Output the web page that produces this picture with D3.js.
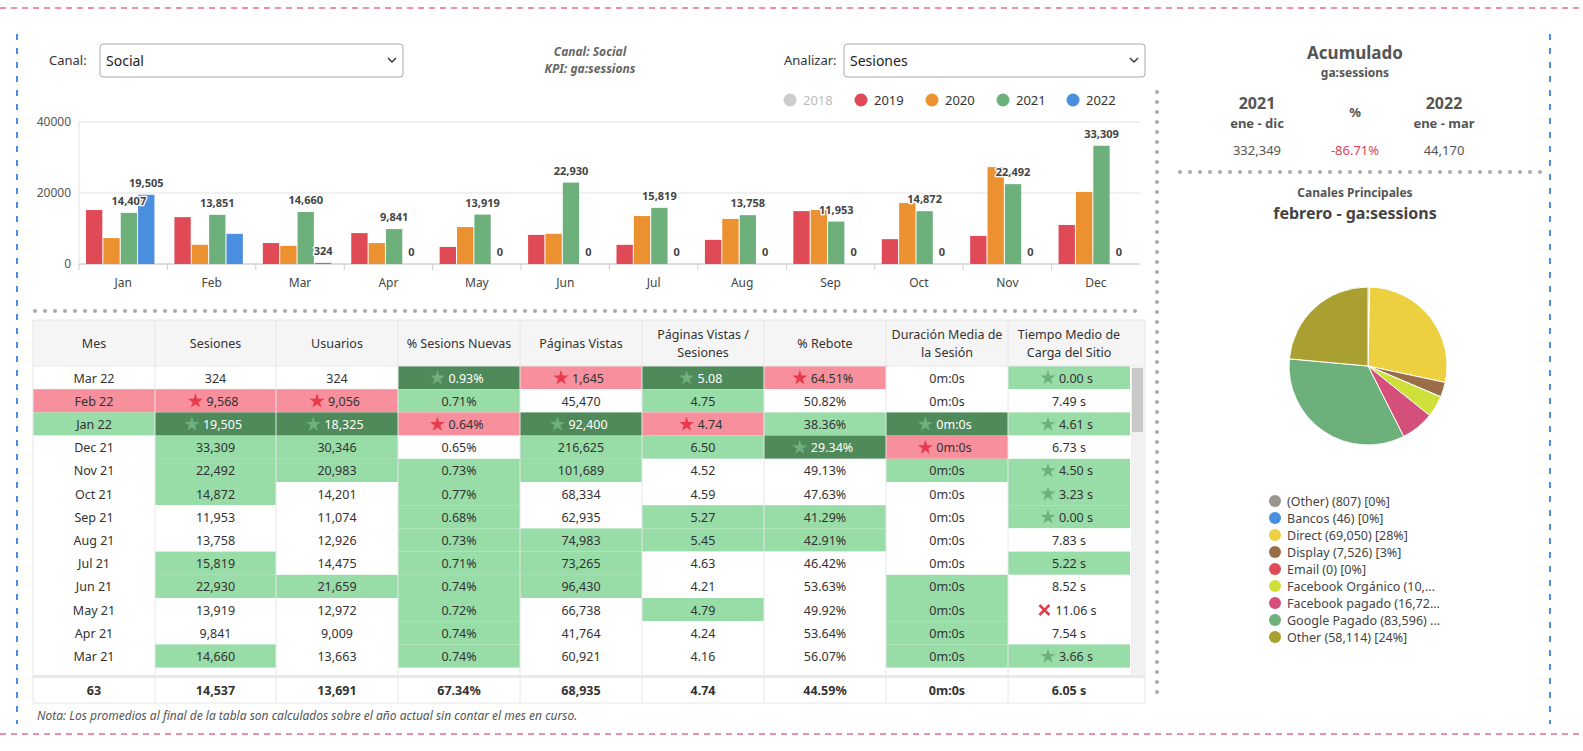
<!DOCTYPE html>
<html><head><meta charset="utf-8">
<script src="https://cdn.jsdelivr.net/npm/d3@7"></script>
<style>
  html, body { margin: 0; background: #fff; overflow: hidden; }
  svg { font-family: "Noto Sans", sans-serif; display: block; }
</style></head>
<body>
<script>
// ---- data ----
const months = ['Jan','Feb','Mar','Apr','May','Jun','Jul','Aug','Sep','Oct','Nov','Dec']
const years = ['2018','2019','2020','2021','2022']
const yearColors = ['#cccccc','#e04a57','#ec9130','#6db07c','#4a8ee0']
const s2019 = [15200,13200,5900,8700,4800,8200,5400,6800,14900,7000,7900,11000]
const s2020 = [7300,5400,5100,5900,10400,8500,13500,12700,15200,17200,27300,20300]
const s2021 = [14407,13851,14660,9841,13919,22930,15819,13758,11953,14872,22492,33309]
const s2022 = [19505,8500,324,0,0,0,0,0,0,0,0,0]
const label2022 = ['19,505',null,'324','0','0','0','0','0','0','0','0','0']
const yTicks = [0,20000,40000]

const tableHeaders = ['Mes','Sesiones','Usuarios','% Sesions Nuevas','Páginas Vistas','Páginas Vistas /|Sesiones','% Rebote','Duración Media de|la Sesión','Tiempo Medio de|Carga del Sitio']
const tableRows = [
  ['Mar 22','324','324','0.93%','1,645','5.08','64.51%','0m:0s','0.00 s'],
  ['Feb 22','9,568','9,056','0.71%','45,470','4.75','50.82%','0m:0s','7.49 s'],
  ['Jan 22','19,505','18,325','0.64%','92,400','4.74','38.36%','0m:0s','4.61 s'],
  ['Dec 21','33,309','30,346','0.65%','216,625','6.50','29.34%','0m:0s','6.73 s'],
  ['Nov 21','22,492','20,983','0.73%','101,689','4.52','49.13%','0m:0s','4.50 s'],
  ['Oct 21','14,872','14,201','0.77%','68,334','4.59','47.63%','0m:0s','3.23 s'],
  ['Sep 21','11,953','11,074','0.68%','62,935','5.27','41.29%','0m:0s','0.00 s'],
  ['Aug 21','13,758','12,926','0.73%','74,983','5.45','42.91%','0m:0s','7.83 s'],
  ['Jul 21','15,819','14,475','0.71%','73,265','4.63','46.42%','0m:0s','5.22 s'],
  ['Jun 21','22,930','21,659','0.74%','96,430','4.21','53.63%','0m:0s','8.52 s'],
  ['May 21','13,919','12,972','0.72%','66,738','4.79','49.92%','0m:0s','11.06 s'],
  ['Apr 21','9,841','9,009','0.74%','41,764','4.24','53.64%','0m:0s','7.54 s'],
  ['Mar 21','14,660','13,663','0.74%','60,921','4.16','56.07%','0m:0s','3.66 s']
]
// cell styles: '' plain, g light green, G dark green + star, r pink + star, p pink, s light green + star, x cross
const tableStyles = [
  ['','','','G','r','G','r','','s'],
  ['p','r','r','g','','g','','',''],
  ['g','G','G','r','G','r','g','G','s'],
  ['','g','g','','g','g','G','r',''],
  ['','g','g','g','g','','','g','s'],
  ['','g','','g','','','','','s'],
  ['','','','g','','g','g','','s'],
  ['','','','g','g','g','g','',''],
  ['','g','','g','g','','','','g'],
  ['','g','g','g','g','','','g',''],
  ['','','','g','','g','','g','x'],
  ['','','','g','','','','g',''],
  ['','g','','g','','','','g','s']
]
const tableTotals = ['63','14,537','13,691','67.34%','68,935','4.74','44.59%','0m:0s','6.05 s']

const pieValues = [807,46,69050,7526,0,10800,16720,83596,58114]
const pieLegend = ['(Other) (807) [0%]','Bancos (46) [0%]','Direct (69,050) [28%]','Display (7,526) [3%]','Email (0) [0%]','Facebook Orgánico (10,...','Facebook pagado (16,72...','Google Pagado (83,596) ...','Other (58,114) [24%]']
const pieColors = ['#9a958d','#4a8ee0','#ecd03f','#9b6e4a','#e04a57','#cfe03a','#d44f7a','#6db07c','#aaa032']

// ---- page ----
const svg = d3.select('body').append('svg').attr('width',1583).attr('height',751)

// frame
svg.append('line').attr('x1',0).attr('x2',1583).attr('y1',8).attr('y2',8).attr('stroke','#e36f8e').attr('stroke-width',1.5).attr('stroke-dasharray','6,5')
svg.append('line').attr('x1',0).attr('x2',1583).attr('y1',734).attr('y2',734).attr('stroke','#e36f8e').attr('stroke-width',1.5).attr('stroke-dasharray','6,5')
for (const x of [17,1550]) {
  svg.append('line').attr('x1',x).attr('x2',x).attr('y1',34).attr('y2',724).attr('stroke','#4a8ee0').attr('stroke-width',2).attr('stroke-dasharray','6,8')
}
const dots = (x1,y1,x2,y2) => svg.append('line').attr('x1',x1).attr('y1',y1).attr('x2',x2).attr('y2',y2)
  .attr('stroke','#aaa').attr('stroke-width',4).attr('stroke-linecap','round').attr('stroke-dasharray','0,10')
dots(1157,92,1157,700)
dots(35,311,1140,311)
dots(1180,172,1545,172)

// selects
const select = (lx, label, x, w, value) => {
  svg.append('text').attr('x',lx).attr('y',65).attr('font-size',13).attr('fill','#333').text(label)
  svg.append('rect').attr('x',x).attr('y',44).attr('width',w).attr('height',33).attr('rx',3).attr('fill','#fff').attr('stroke','#aaa')
  svg.append('text').attr('x',x+6).attr('y',66).attr('font-size',14).attr('fill','#222').text(value)
  svg.append('path').attr('d',`M${x+w-15},58 l4,4 l4,-4`).attr('fill','none').attr('stroke','#333').attr('stroke-width',1.4)
}
select(49,'Canal:',100,303,'Social')
select(784,'Analizar:',844,301,'Sesiones')
svg.append('text').attr('x',590).attr('y',56).attr('text-anchor','middle').attr('font-size',12).attr('font-style','italic').attr('font-weight','bold').attr('fill','#666').text('Canal: Social')
svg.append('text').attr('x',590).attr('y',73).attr('text-anchor','middle').attr('font-size',12).attr('font-style','italic').attr('font-weight','bold').attr('fill','#666').text('KPI: ga:sessions')

// legend
const legX = [790,861,932,1003,1073]
years.forEach((yr,i) => {
  svg.append('circle').attr('cx',legX[i]).attr('cy',100).attr('r',6.5).attr('fill',yearColors[i])
  svg.append('text').attr('x',legX[i]+13).attr('y',105).attr('font-size',13).attr('fill',i==0?'#bbb':'#333').text(yr)
})

// bar chart
const x = d3.scaleBand().domain(months).range([79,1140])
const xi = d3.scaleBand().domain(['2019','2020','2021','2022']).range([7,x.bandwidth()-13]).paddingInner(0.06)
const y = d3.scaleLinear().domain([0,40000]).range([264,122])
const gChart = svg.append('g')
yTicks.forEach(t => {
  gChart.append('line').attr('x1',79).attr('x2',1140).attr('y1',y(t)).attr('y2',y(t)).attr('stroke','#e3e3e3')
  gChart.append('text').attr('x',71).attr('y',y(t)+4).attr('text-anchor','end').attr('font-size',12).attr('fill','#555').text(t)
})
gChart.append('line').attr('x1',79).attr('x2',79).attr('y1',122).attr('y2',264).attr('stroke','#e3e3e3')
gChart.append('line').attr('x1',79).attr('x2',1140).attr('y1',264).attr('y2',264).attr('stroke','#ccc')
months.forEach((m,i) => {
  gChart.append('line').attr('x1',x(m)).attr('x2',x(m)).attr('y1',264).attr('y2',270).attr('stroke','#ccc')
  gChart.append('text').attr('x',x(m)+x.bandwidth()/2).attr('y',287).attr('text-anchor','middle').attr('font-size',12).attr('fill','#444').text(m)
})
const series = [['2019',s2019,1],['2020',s2020,2],['2021',s2021,3],['2022',s2022,4]]
series.forEach(([yr,vals,ci]) => {
  gChart.selectAll(null).data(vals).join('rect')
    .attr('x',(d,i) => x(months[i]) + xi(yr))
    .attr('y',d => y(d)).attr('width',xi.bandwidth()).attr('height',d => 264 - y(d))
    .attr('fill',yearColors[ci])
})
const barLabel = (vals, yr, labels) => gChart.selectAll(null).data(vals).join('text')
  .attr('x',(d,i) => x(months[i]) + xi(yr) + xi.bandwidth()/2)
  .attr('y',d => y(d) - 8)
  .attr('text-anchor','middle').attr('font-size',11).attr('font-weight','bold').attr('fill','#444')
  .attr('stroke','#fff').attr('stroke-width',2.5).attr('paint-order','stroke')
  .text((d,i) => labels ? labels[i] : d3.format(',')(d))
barLabel(s2021,'2021')
barLabel(s2022,'2022',label2022)

// table
const colX = [33,155,276,398,520,642,764,886,1008,1130]
const headTop = 320, rowH = 23.2, bodyTop = 366
const gT = svg.append('g')
gT.append('rect').attr('x',33).attr('y',headTop).attr('width',1112).attr('height',bodyTop-headTop).attr('fill','#f5f5f5')
tableHeaders.forEach((h,i) => {
  const cx = (colX[i]+colX[i+1])/2
  const lines = h.split('|')
  lines.forEach((l,k) => gT.append('text').attr('x',cx).attr('y',(headTop+bodyTop)/2 + 5 + (k - (lines.length-1)/2)*18)
    .attr('text-anchor','middle').attr('font-size',12.5).attr('fill','#333').text(l))
})
const fills = {g:'#98dca8', s:'#98dca8', G:'#4e8a5a', r:'#f88f9c', p:'#f88f9c', x:'#fff', '':'#fff'}
const starPath = d3.symbol(d3.symbolStar, 70)()
tableRows.forEach((row,r) => {
  const ty = bodyTop + r*rowH
  row.forEach((v,c) => {
    const st = tableStyles[r][c]
    const cx = (colX[c]+colX[c+1])/2
    gT.append('rect').attr('x',colX[c]).attr('y',ty).attr('width',colX[c+1]-colX[c]).attr('height',rowH).attr('fill',fills[st])
    const hasIcon = c > 0 && ['G','r','s','x'].includes(st)
    const t = gT.append('text').attr('x',cx + (hasIcon ? 7 : 0)).attr('y',ty+16.5).attr('text-anchor','middle').attr('font-size',12.5)
      .attr('fill',st==='G' ? '#fff' : '#333').text(v)
    if (hasIcon) {
      const w = t.node().getComputedTextLength()
      const ix = cx + 7 - w/2 - 11
      if (st === 'x') {
        gT.append('path').attr('d',`M${ix-5},${ty+7} l10,10 M${ix+5},${ty+7} l-10,10`).attr('stroke','#e03c4a').attr('stroke-width',2.5)
      } else {
        gT.append('path').attr('d',starPath).attr('transform',`translate(${ix},${ty+12})`)
          .attr('fill', st === 'r' ? '#e83a4a' : '#6fb07e')
      }
    }
  })
})
colX.slice(1,9).forEach(cx => gT.append('line').attr('x1',cx).attr('x2',cx).attr('y1',headTop).attr('y2',703).attr('stroke','#e6e6e6'))
gT.append('rect').attr('x',33).attr('y',headTop).attr('width',1112).attr('height',703-headTop).attr('fill','none').attr('stroke','#e6e6e6')
gT.append('line').attr('x1',33).attr('x2',1145).attr('y1',bodyTop).attr('y2',bodyTop).attr('stroke','#e6e6e6')
gT.append('rect').attr('x',33).attr('y',675).attr('width',1112).attr('height',3).attr('fill','#e8e8e8')
gT.append('rect').attr('x',1131).attr('y',bodyTop).attr('width',14).attr('height',675-bodyTop).attr('fill','#f1f1f1')
gT.append('rect').attr('x',1132).attr('y',bodyTop+2).attr('width',11).attr('height',64).attr('fill','#c8c8c8')
tableTotals.forEach((v,c) => gT.append('text').attr('x',(colX[c]+colX[c+1])/2).attr('y',695).attr('text-anchor','middle')
  .attr('font-size',12.5).attr('font-weight','bold').attr('fill','#333').text(v))
svg.append('text').attr('x',37).attr('y',720).attr('font-size',12).attr('font-style','italic').attr('fill','#555')
  .text('Nota: Los promedios al final de la tabla son calculados sobre el año actual sin contar el mes en curso.')

// right panel
const rt = (x0,y0,s,t,opts={}) => svg.append('text').attr('x',x0).attr('y',y0).attr('text-anchor','middle').attr('font-size',s)
  .attr('font-weight',opts.b?'bold':'normal').attr('fill',opts.c||'#555').text(t)
rt(1355,59,17,'Acumulado',{b:1})
rt(1355,77,12,'ga:sessions',{b:1})
rt(1257,109,16,'2021',{b:1})
rt(1257,128,13,'ene - dic',{b:1})
rt(1355,117,13,'%',{b:1})
rt(1444,109,16,'2022',{b:1})
rt(1444,128,13,'ene - mar',{b:1})
rt(1257,155,13,'332,349')
rt(1355,155,13,'-86.71%',{c:'#d9435a'})
rt(1444,155,13,'44,170')
rt(1355,197,12,'Canales Principales',{b:1})
rt(1355,219,16,'febrero - ga:sessions',{b:1,c:'#444'})

const pie = d3.pie().sort(null).value(d => d)
const arc = d3.arc().innerRadius(0).outerRadius(79)
svg.append('g').attr('transform','translate(1368,366)')
  .selectAll('path').data(pie(pieValues)).join('path')
  .attr('d',arc).attr('fill',(d,i) => pieColors[i]).attr('stroke','#fff').attr('stroke-width',1)
pieLegend.forEach((l,i) => {
  svg.append('circle').attr('cx',1275).attr('cy',501+i*17).attr('r',6).attr('fill',pieColors[i])
  svg.append('text').attr('x',1287).attr('y',506+i*17).attr('font-size',12.5).attr('fill','#444').text(l)
})
</script>
</body></html>
